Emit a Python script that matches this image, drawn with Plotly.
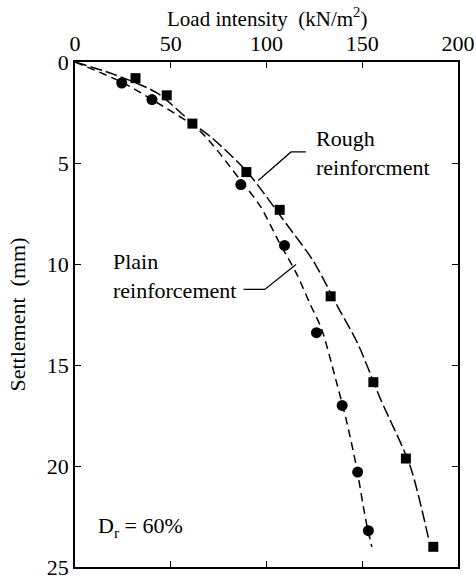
import plotly.graph_objects as go

# Measured points: rough reinforcement (squares)
rough_load = [31.6, 47.9, 61.3, 89.5, 106.9, 133.5, 155.8, 172.8, 187.1]
rough_settle = [0.80, 1.65, 3.05, 5.45, 7.32, 11.6, 15.85, 19.63, 24.0]

# Measured points: plain reinforcement (circles)
plain_load = [24.4, 40.2, 86.6, 109.4, 126.1, 139.5, 147.6, 153.2]
plain_settle = [1.04, 1.86, 6.07, 9.08, 13.4, 17.0, 20.3, 23.2]

# Fitted curves
rough_curve_load = [0, 20, 42.8, 61, 72, 89.5, 110.7, 124.4, 137.3, 147.6, 159.6, 175, 184.5]
rough_curve_settle = [0, 0.6, 1.53, 3.0, 3.8, 5.4, 8.06, 9.85, 12.13, 13.93, 16.7, 20.0, 23.55]

plain_curve_load = [0, 24.4, 40.2, 65, 86, 96.9, 106.3, 115.8, 122.7, 128.7, 136.4, 141.6, 146.8, 151.9, 155]
plain_curve_settle = [0, 1.0, 1.86, 3.4, 5.8, 7.16, 8.87, 10.5, 11.97, 13.2, 15.8, 17.7, 19.96, 22.7, 24.0]

x_ticks = [0, 50, 100, 150, 200]
y_ticks = [0, 5, 10, 15, 20, 25]

FONT = "Liberation Serif, Times New Roman, serif"
FS = 22

fig = go.Figure()
fig.add_trace(go.Scatter(x=rough_curve_load, y=rough_curve_settle, mode="lines",
                         line=dict(color="black", width=1.5, dash="12px,4px", shape="spline", smoothing=0.8),
                         showlegend=False, hoverinfo="skip"))
fig.add_trace(go.Scatter(x=plain_curve_load, y=plain_curve_settle, mode="lines",
                         line=dict(color="black", width=1.5, dash="8px,5px", shape="spline", smoothing=0.8),
                         showlegend=False, hoverinfo="skip"))
fig.add_trace(go.Scatter(x=rough_load, y=rough_settle, mode="markers",
                         marker=dict(symbol="square", size=10, color="black"),
                         showlegend=False))
fig.add_trace(go.Scatter(x=plain_load, y=plain_settle, mode="markers",
                         marker=dict(symbol="circle", size=11, color="black"),
                         showlegend=False))

# leader lines
fig.add_shape(type="path", path="M 120.5 4.45 L 112.8 4.45 L 95.7 5.87",
              xref="x", yref="y", line=dict(color="black", width=1.3))
fig.add_shape(type="path", path="M 88 11.26 L 99.1 11.26 L 115.4 10.03",
              xref="x", yref="y", line=dict(color="black", width=1.3))

fig.add_annotation(x=124.6, y=4.5, xref="x", yref="y", text="Rough<br>reinforcment",
                   showarrow=False, xanchor="left", yanchor="middle", align="left",
                   font=dict(family=FONT, size=FS, color="black"))
fig.add_annotation(x=18.8, y=10.6, xref="x", yref="y", text="Plain<br>reinforcement",
                   showarrow=False, xanchor="left", yanchor="middle", align="left",
                   font=dict(family=FONT, size=FS, color="black"))
fig.add_annotation(x=11.1, y=23.0, xref="x", yref="y", text="D<sub>r</sub> = 60%",
                   showarrow=False, xanchor="left", yanchor="middle", align="left",
                   font=dict(family=FONT, size=FS, color="black"))

PLOT_H = 579 - 62 - 12
PLOT_W = 476 - 75 - 18

# axis titles
fig.add_annotation(x=0.5, y=1 + (62 - 18) / PLOT_H, xref="paper", yref="paper",
                   text="Load intensity  (kN/m<sup>2</sup>)", showarrow=False,
                   xanchor="center", yanchor="middle",
                   font=dict(family=FONT, size=21, color="black"))
fig.add_annotation(x=(17 - 75) / PLOT_W, y=0.5, xref="paper", yref="paper",
                   text="Settlement  (mm)", showarrow=False, textangle=-90,
                   xanchor="center", yanchor="middle",
                   font=dict(family=FONT, size=FS, color="black"))

fig.update_layout(
    width=476, height=579,
    margin=dict(l=75, r=18, t=62, b=12),
    plot_bgcolor="white", paper_bgcolor="white",
    font=dict(family=FONT, size=FS, color="black"),
    xaxis=dict(range=[0, 200], side="top", tickvals=x_ticks, ticks="inside", ticklen=6,
               tickcolor="black", showline=True, linecolor="black", linewidth=1.6,
               mirror="ticks", showgrid=False, zeroline=False, ticklabeloverflow="allow",
               automargin=False),
    yaxis=dict(range=[25, 0], tickvals=y_ticks, ticks="inside", ticklen=6,
               tickcolor="black", showline=True, linecolor="black", linewidth=1.6,
               mirror="ticks", showgrid=False, zeroline=False, ticklabeloverflow="allow",
               automargin=False),
)

fig.write_html("out.html")
